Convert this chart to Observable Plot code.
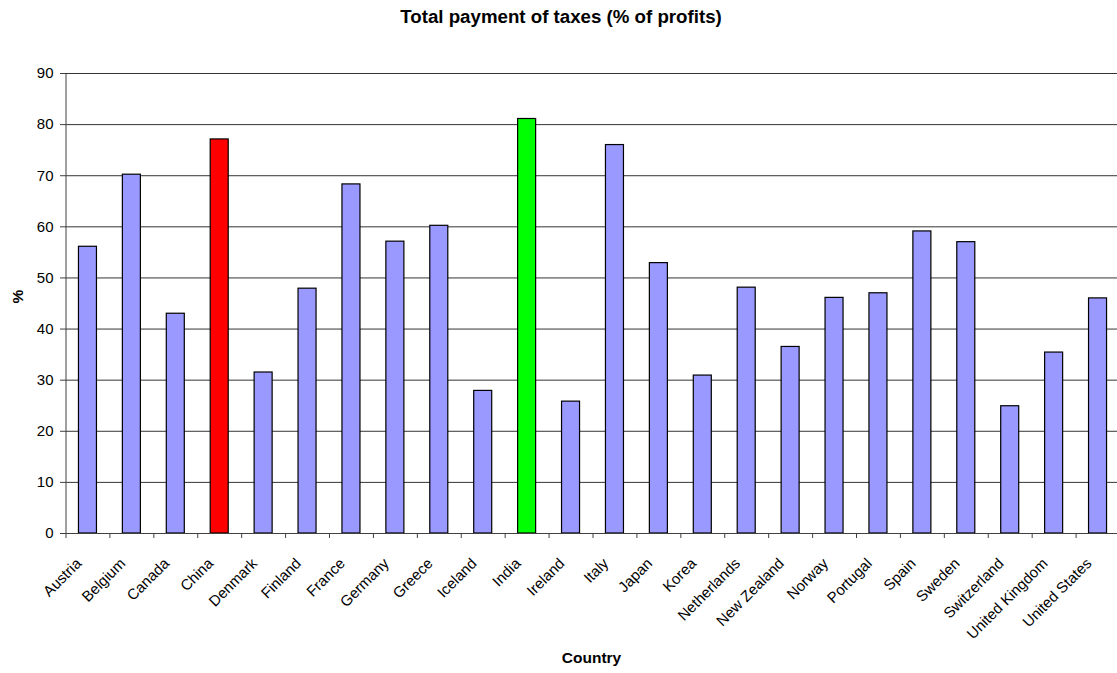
<!DOCTYPE html>
<html><head><meta charset="utf-8">
<script src="https://cdn.jsdelivr.net/npm/d3@7"></script>
<script src="https://cdn.jsdelivr.net/npm/@observablehq/plot@0.6"></script>
<style>
body{margin:0;background:#fff;overflow:hidden;font-family:"Liberation Sans",Arial,sans-serif;}
#title{height:40px;box-sizing:border-box;padding-top:6px;padding-left:5px;text-align:center;font-weight:bold;font-size:18.7px;line-height:22px;color:#000;}
#chart svg{display:block;}
</style></head><body>
<div id="title">Total payment of taxes (% of profits)</div>
<div id="chart"></div>
<script>
const countries = ["Austria","Belgium","Canada","China","Denmark","Finland","France","Germany","Greece","Iceland","India","Ireland","Italy","Japan","Korea","Netherlands","New Zealand","Norway","Portugal","Spain","Sweden","Switzerland","United Kingdom","United States"];
const values = [56.1,70.2,43.0,77.1,31.5,47.9,68.3,57.1,60.2,27.9,81.1,25.8,76.0,52.9,30.9,48.1,36.5,46.1,47.0,59.1,57.0,24.9,35.4,46.0];
const highlighted = ["China","India"];
const yTicks = [0,10,20,30,40,50,60,70,80,90];
const groupNames = ["Other","China","India"];
const groupColors = ["#9999FF","#FF0000","#00FF00"];

const data = countries.map((c,i)=>({country:c, value:values[i], group: highlighted.includes(c) ? c : "Other"}));
const step = (1119.5-65.5)/countries.length;

const chart = Plot.plot({
  width:1117, height:633,
  marginTop:33, marginBottom:140, marginLeft:65, marginRight:0,
  style:{fontFamily:"'Liberation Sans', Arial, sans-serif", fontSize:"15px", color:"#000", background:"#fff"},
  x:{domain:countries, range:[65.5,1119.5], paddingInner:0.59, paddingOuter:0.295, align:0.5, round:false},
  y:{domain:[0,90]},
  color:{domain:groupNames, range:groupColors},
  marks:[
    Plot.gridY(yTicks,{stroke:"#000", strokeOpacity:0.8}),
    Plot.barY(data,{x:"country", y:"value", fill:"group", stroke:"#000", strokeWidth:1.2}),
    Plot.ruleX([countries[0]],{dx:-step/2, y1:0, y2:90, stroke:"#404040"}),
    Plot.ruleY([0],{stroke:"#404040"}),
    Plot.axisY(yTicks,{tickSize:5, tickPadding:7, label:null, stroke:"#404040", fontSize:15}),
    Plot.axisX({tickSize:5, dx:-step/2, tickFormat:()=>"", label:null, stroke:"#404040"}),
    Plot.text(countries,{x:d=>d, frameAnchor:"bottom", textAnchor:"end", lineAnchor:"middle", rotate:-45, dx:-9, dy:27.5, fontSize:15, fill:"#000"}),
    Plot.text(["%"],{frameAnchor:"left", rotate:-90, dx:-47, fontWeight:"bold", fontSize:15.5}),
    Plot.text(["Country"],{frameAnchor:"bottom", dy:129, fontWeight:"bold", fontSize:15.5})
  ]
});
document.getElementById("chart").appendChild(chart);
</script>
</body></html>
